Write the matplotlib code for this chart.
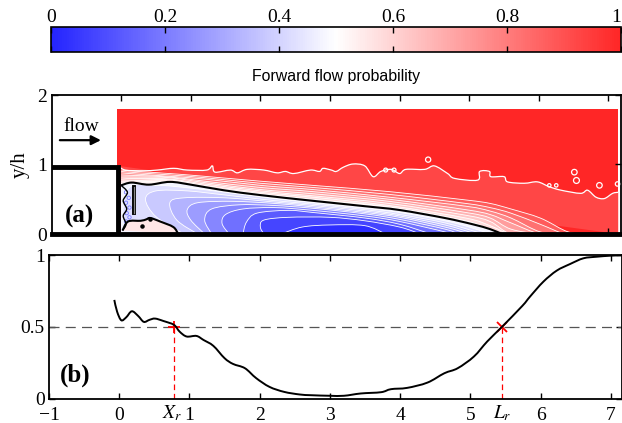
import matplotlib
matplotlib.use('Agg')
import matplotlib.pyplot as plt
import numpy as np
from matplotlib.cm import ScalarMappable
from matplotlib.colors import LinearSegmentedColormap, Normalize
from matplotlib.patches import PathPatch
from matplotlib.path import Path

plt.rcParams['font.family'] = ['Liberation Serif', 'DejaVu Serif']
plt.rcParams['mathtext.fontset'] = 'stix'

# upper contour levels, all on the same stations
upper_x = [0, .25, .7, 1.2, 2, 2.75, 3.85, 4.95, 5.3, 5.6, 6.02, 6.37, 6.55]
upper_levels = [.90, .85, .80, .75, .70, .65, .60, .55]
c90 = [.92, .90, .87, .83, .76, .70, .61, .49, .44, .36, .23, .05, 0]
c85 = [.90, .88, .85, .81, .73, .67, .57, .44, .38, .30, .14, 0, 0]
c80 = [.88, .86, .83, .79, .70, .64, .53, .40, .33, .23, .03, 0, 0]
c75 = [.85, .84, .82, .76, .67, .61, .50, .35, .28, .16, 0, 0, 0]
c70 = [.82, .82, .81, .74, .64, .58, .47, .31, .23, .07, 0, 0, 0]
c65 = [.79, .80, .79, .72, .62, .55, .44, .27, .18, 0, 0, 0, 0]
c60 = [.76, .77, .78, .70, .60, .53, .41, .23, .12, 0, 0, 0, 0]
c55 = [.73, .75, .76, .68, .58, .50, .39, .19, .06, 0, 0, 0, 0]
upper_heights = [c90, c85, c80, c75, c70, c65, c60, c55]

# 0.5 contour
black_x = [0, .15, .4, .7, 1.0, 1.47, 2, 2.73, 3.5, 4, 4.65, 5.05, 5.3, 5.47]
black_y = [.70, .74, .71, .75, .71, .63, .56, .48, .40, .345, .23, .14, .07, 0]
bump_x = [.02, .1, .28, .36, .42, .56, .75, .82]
bump_y = [.05, .18, .19, .21, .23, .18, .10, 0]
edge_x = [.0, .09, .03, .08, .03, .07, .02]
edge_y = [.70, .60, .48, .36, .26, .14, .05]
sliver_x = [.18, .18]
sliver_y = [.30, .68]

# lower contour levels, domes over the wall
lower_levels = [.45, .40, .35, .30, .25, .20, .15, .10, .05]
d45_x = [.85, .1, .1, .5, 1, 1.5, 2.2, 2.75, 3.5, 4, 4.65, 5.0, 5.3]
d45_y = [0, .1, .65, .70, .66, .60, .51, .45, .37, .31, .19, .10, 0]
d40_x = [.9, .5, .35, .5, .95, 1.5, 2.2, 2.75, 3.5, 4, 4.65, 5.2]
d40_y = [0, .25, .5, .62, .62, .56, .48, .43, .35, .28, .16, 0]
d35_x = [1.1, .8, .7, .9, 1.5, 2.2, 2.75, 3.5, 4, 4.65, 5.1]
d35_y = [0, .2, .45, .52, .52, .46, .41, .33, .26, .13, 0]
d30_x = [1.2, 1.0, .95, 1.1, 1.6, 2.2, 2.75, 3.5, 4, 4.65, 5]
d30_y = [0, .2, .35, .45, .47, .44, .39, .31, .24, .10, 0]
d25_x = [1.3, 1.2, 1.3, 1.7, 2.2, 2.75, 3.5, 4, 4.65, 4.85]
d25_y = [0, .2, .36, .42, .41, .37, .29, .21, .07, 0]
d20_x = [1.55, 1.45, 1.5, 1.75, 2.2, 2.75, 3.5, 4, 4.65, 4.7]
d20_y = [0, .15, .28, .36, .38, .34, .26, .18, .03, 0]
d15_x = [1.75, 1.8, 1.95, 2.4, 2.75, 3.5, 4, 4.45]
d15_y = [0, .17, .30, .34, .31, .23, .14, 0]
d10_x = [2.05, 2.0, 2.05, 2.4, 3, 3.5, 4, 4.3]
d10_y = [0, .1, .2, .24, .24, .19, .10, 0]
d05_x = [2.3, 2.6, 3, 3.5, 3.8]
d05_y = [0, .10, .13, .12, 0]
lower_x = [d45_x, d40_x, d35_x, d30_x, d25_x, d20_x, d15_x, d10_x, d05_x]
lower_y = [d45_y, d40_y, d35_y, d30_y, d25_y, d20_y, d15_y, d10_y, d05_y]

# wiggly 0.95 contour
wig_x = [-.04, .06, .32, .52, .755, .95, 1.23, 1.31, 1.35, 1.57, 1.67, 1.81, 2.05, 2.24, 2.36, 2.48, 2.72,
         2.85, 2.90, 3.02, 3.09, 3.19, 3.33, 3.50, 3.62, 3.73, 3.88, 4.0, 4.09, 4.36, 4.50, 4.69, 4.79,
         5.12, 5.15, 5.29, 5.31, 5.50, 5.55, 5.79, 5.98, 6.15, 6.32, 6.60, 6.70, 6.82, 6.94, 7.06, 7.14]
wig_y = [.98, .92, .91, .92, .945, .92, .92, .98, .89, .92, .88, .93, .92, .88, .90, .87, .92,
         .90, .945, .92, .90, .96, 1.007, .98, .825, .90, .93, .87, .93, .93, .98, .87, .80,
         .775, .90, .90, .825, .825, .75, .73, .75, .68, .63, .585, .63, .53, .51, .585, .60]
loop_x = [4.41, 3.80, 3.92, 6.51, 6.54, 6.87, 7.13, 6.15, 6.25]
loop_y = [1.07, .92, .92, .89, .77, .70, .72, .70, .70]
loop_s = [14, 8, 8, 16, 18, 16, 10, 6, 6]
speck_x = [.07, .11, .07, .12, .08, .12, .07, .30, .42]
speck_y = [.60, .52, .45, .38, .30, .24, .18, .11, .21]

# wall curve, panel b
curve_x = [-.07, -.03, .03, .10, .18, .27, .35, .43, .51, .63, .78, .86, .96, 1.1, 1.2, 1.34, 1.5, 1.62, 1.79,
           1.95, 2.14, 2.35, 2.57, 2.73, 3.0, 3.2, 3.44, 3.73, 3.87, 4.1, 4.39, 4.63, 4.82, 5.05, 5.24, 5.45,
           5.74, 5.85, 6.04, 6.23, 6.42, 6.61, 6.8, 6.99, 7.15]
curve_y = [.687, .605, .545, .566, .608, .575, .534, .548, .557, .54, .513, .466, .432, .436, .408, .367, .281,
           .241, .211, .142, .081, .046, .028, .023, .019, .019, .035, .044, .065, .074, .111, .176, .211, .292,
           .397, .499, .645, .71, .814, .891, .937, .977, .988, .995, .998]
xr = .78
lr = 5.456
cbar_ticks = [0, .2, .4, .6, .8, 1]
cbar_labels = ['0', '0.2', '0.4', '0.6', '0.8', '1']

W, H = 622, 423


def px_axes(fig, left, right, top, bottom):
    return fig.add_axes([left / W, 1 - bottom / H, (right - left) / W, (bottom - top) / H])


def smooth_path(xs, ys, close_to=None):
    # bezier through the read points, catmull-rom style
    p = np.column_stack([xs, ys]).astype(float)
    verts = [p[0]]
    codes = [Path.MOVETO]
    for i in range(len(p) - 1):
        before = p[max(i - 1, 0)]
        after = p[min(i + 2, len(p) - 1)]
        verts += [p[i] + (p[i + 1] - before) / 6, p[i + 1] - (after - p[i]) / 6, p[i + 1]]
        codes += [Path.CURVE4] * 3
    if close_to is not None:
        verts += [close_to]
        codes += [Path.LINETO]
    verts += [p[0]]
    codes += [Path.CLOSEPOLY]
    return Path(verts, codes)


def fill_level(ax, xs, ys, color, z, close_to=None):
    ax.add_patch(PathPatch(smooth_path(xs, ys, close_to), fc=color, ec='none', lw=0, zorder=z))


def line_level(ax, xs, ys, color, lw, z):
    path = smooth_path(xs, ys)
    # drop the closing segment, the line stays open
    open_path = Path(path.vertices[:-1], path.codes[:-1])
    ax.add_patch(PathPatch(open_path, fc='none', ec=color, lw=lw, zorder=z))


cmap = LinearSegmentedColormap.from_list('fp', ['#2424ff', '#ffffff', '#ff2626'])
fig = plt.figure(figsize=(W / 100, H / 100), dpi=100)

# colorbar
cax = px_axes(fig, 51, 621, 27.5, 52)
cb = fig.colorbar(ScalarMappable(Normalize(0, 1), cmap), cax=cax, orientation='horizontal')
cb.set_ticks(cbar_ticks)
cb.set_ticklabels(cbar_labels)
cax.tick_params(direction='in', top=True, bottom=True, labeltop=True, labelbottom=False,
                labelsize=14, length=4, width=1, pad=1)
cax.get_xticklabels()[-1].set_ha('right')
cb.outline.set_linewidth(1.2)
fig.text(336 / W, 1 - 76 / H, 'Forward flow probability', family='Liberation Sans', fontsize=11.4,
         ha='center', va='center')

# panel a
ax = px_axes(fig, 51.5, 621, 95, 234)
ax.set_xlim(-1, 7.18)
ax.set_ylim(0, 2)
ax.fill([-.06, 7.14, 7.14, -.06], [0, 0, 1.8, 1.8], color=cmap(1.0), lw=0, zorder=1)
fill_level(ax, wig_x, wig_y, cmap(.925), 1.1, close_to=[7.14, 0])
ax.fill([-.06, -.04, -.04, -.06], [0, 0, .98, .98], color=cmap(.925), lw=0, zorder=1.1)
line_level(ax, wig_x, wig_y, 'white', .9, 4)
ax.scatter(loop_x, loop_y, s=loop_s, facecolors='none', edgecolors='white', linewidths=.9, zorder=4)

z = 2
for level, heights in zip(upper_levels, upper_heights):
    fill_level(ax, upper_x, heights, cmap(level - .025), z, close_to=[0, 0])
    line_level(ax, upper_x, heights, 'white', .6, z)
    z += .01
fill_level(ax, black_x, black_y, cmap(.475), z, close_to=[0, 0])
for level, xs, ys in zip(lower_levels, lower_x, lower_y):
    z += .01
    fill_level(ax, xs, ys, cmap(level - .025), z)
    line_level(ax, xs, ys, 'white', .6, z)
fill_level(ax, bump_x, bump_y, '#ffe6e6', z + .01)
ax.scatter(speck_x[:7], speck_y[:7], s=6, facecolors='none', edgecolors='#7878ff', linewidths=.6, zorder=5)
ax.scatter(speck_x[7:], speck_y[7:], s=5, color='black', zorder=5)
line_level(ax, black_x, black_y, 'black', 1.5, 6)
line_level(ax, bump_x, bump_y, 'black', 1.5, 6)
line_level(ax, edge_x, edge_y, 'black', 1, 6)
ax.plot(sliver_x, sliver_y, color='black', lw=2.8, zorder=6)
ax.plot(sliver_x, sliver_y, color='#888888', lw=.9, zorder=6)
ax.plot([-1, -.04, -.04], [.97, .97, 0], color='black', lw=3.5, solid_joinstyle='miter', zorder=7)
ax.plot([-1, 7.18], [0, 0], color='black', lw=3.5, zorder=7, clip_on=False)
ax.set_xticks(range(0, 8))
ax.set_yticks([0, 1, 2])
ax.tick_params(direction='in', top=True, right=True, labelbottom=False, labelsize=14, length=4, width=1, pad=3)
ax.yaxis.get_major_ticks()[1].tick1line.set_visible(False)
for s in ax.spines.values():
    s.set_linewidth(1.3)
fig.text(20 / W, 1 - 165 / H, 'y/h', fontsize=15, rotation=90, ha='center', va='center')
ax.annotate('', xy=(-.29, 1.35), xytext=(-.88, 1.35),
            arrowprops=dict(arrowstyle='-|>', color='black', lw=1.6, mutation_scale=14, shrinkA=0, shrinkB=0))
ax.text(-.57, 1.55, 'flow', fontsize=14, ha='center', va='center')
ax.text(-.6, .25, '(a)', fontsize=18, fontweight='bold', ha='center', va='center')

# panel b
bx = px_axes(fig, 49, 622, 255, 398.5)
bx.set_xlim(-1, 7.16)
bx.set_ylim(0, 1)
bx.axhline(.5, color='#555555', lw=.9, dashes=(8, 5))
bx.plot([xr, xr], [0, .5], color='red', lw=.9, dashes=(4.5, 3))
bx.plot([lr, lr], [0, .5], color='red', lw=.9, dashes=(4.5, 3))
line_level(bx, curve_x, curve_y, 'black', 1.4, 3)
bx.plot([xr], [.5], marker='+', color='red', ms=9, mew=1.3)
bx.plot([lr], [.5], marker='x', color='red', ms=7, mew=1.3)
bx.set_xticks(range(-1, 8))
bx.set_xticklabels(['\u2212' + '1'] + [str(i) for i in range(0, 8)])
bx.set_yticks([0, .5, 1])
bx.set_yticklabels(['0', '0.5', '1'])
bx.tick_params(direction='in', top=True, right=True, labelsize=14, length=4, width=1, pad=3)
bx.tick_params(axis='x', pad=6)
for s in bx.spines.values():
    s.set_linewidth(1.3)
bx.text(xr - .03, -.105, '$X_r$', fontsize=14, ha='center', va='center')
bx.text(lr, -.105, '$L_r$', fontsize=14, ha='center', va='center')
bx.text(-.63, .16, '(b)', fontsize=18, fontweight='bold', ha='center', va='center')

fig.savefig('out.png', dpi=100)
